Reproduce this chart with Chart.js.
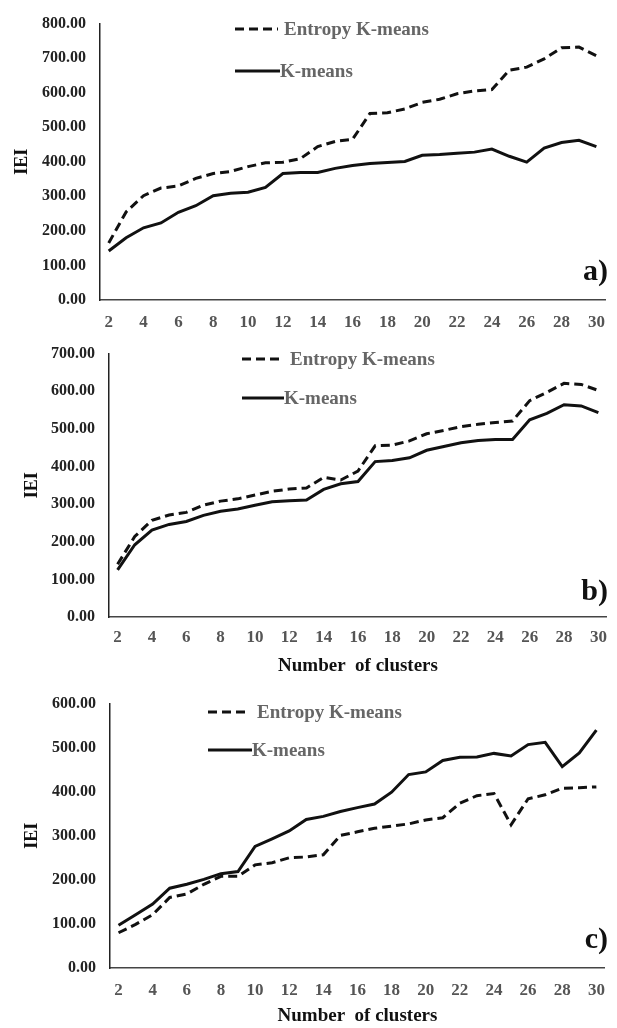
<!DOCTYPE html>
<html lang="en">
<head>
<meta charset="UTF-8">
<title>IEI vs number of clusters</title>
<script src="https://cdn.jsdelivr.net/npm/chart.js"></script>
<style>
  body { margin: 0; background: #fff; }
  .panel { position: absolute; left: 0; width: 617px; }
</style>
</head>
<body>
<div class="panel" style="top:0;height:335px"><canvas id="chartA"></canvas></div>
<div class="panel" style="top:330px;height:350px"><canvas id="chartB"></canvas></div>
<div class="panel" style="top:680px;height:348px"><canvas id="chartC"></canvas></div>
<script>
const clusters = ['2','3','4','5','6','7','8','9','10','11','12','13','14','15','16',
                  '17','18','19','20','21','22','23','24','25','26','27','28','29','30'];

// panel a)
const entropyA = [165,255,302,324,330,352,366,372,386,397,399,409,444,459,465,
                  540,542,553,572,581,597,605,609,665,674,698,730,732,707];
const kmeansA  = [142,180,209,223,254,273,302,309,312,326,366,369,369,381,389,
                  395,398,401,419,421,425,428,437,416,399,440,456,462,444];

// panel b)
const entropyB = [140,214,257,271,278,297,308,314,324,334,340,343,371,364,388,
                  455,457,468,487,496,506,512,517,521,575,597,621,618,602];
const kmeansB  = [125,192,231,246,254,270,281,287,297,306,309,311,339,354,360,
                  413,416,423,443,453,463,469,472,472,524,541,564,561,543];

// panel c)
const entropyC = [80,99,121,160,168,190,208,208,234,239,250,252,257,301,309,
                  317,322,327,336,341,374,391,396,325,384,393,408,409,411];
const kmeansC  = [97,121,145,181,190,201,214,219,276,293,311,337,344,355,364,
                  372,399,439,445,471,478,479,487,481,507,512,457,488,540];

const seriesNames = ['Entropy K-means', 'K-means'];
const serif = '"Liberation Serif", "Times New Roman", serif';

// legend + panel letter, drawn on the canvas
const annotate = {
  id: 'annotate',
  afterDraw(chart, args, o) {
    const ctx = chart.ctx;
    ctx.save();
    ctx.strokeStyle = '#111';
    ctx.lineWidth = 3;
    ctx.setLineDash([9, 5]);
    ctx.beginPath();
    ctx.moveTo(o.x, o.y1);
    ctx.lineTo(o.x + o.len, o.y1);
    ctx.stroke();
    ctx.setLineDash([]);
    ctx.beginPath();
    ctx.moveTo(o.x, o.y2);
    ctx.lineTo(o.x + o.len + 2, o.y2);
    ctx.stroke();

    ctx.font = 'bold 19px ' + serif;
    ctx.fillStyle = '#666';
    ctx.textBaseline = 'middle';
    ctx.fillText(seriesNames[0], o.x + o.len + o.gap1, o.y1 + 1);
    ctx.fillText(seriesNames[1], o.x + o.len + 2, o.y2 + 1);

    ctx.font = 'bold 30px ' + serif;
    ctx.fillStyle = '#111';
    ctx.textAlign = 'right';
    ctx.textBaseline = 'alphabetic';
    ctx.fillText(o.tag, 608, o.tagY);
    ctx.restore();
  }
};

function makeChart(id, entropy, kmeans, yMax, cfg) {
  new Chart(document.getElementById(id), {
    type: 'line',
    data: {
      labels: clusters,
      datasets: [
        { label: seriesNames[0], data: entropy, borderColor: '#111', borderWidth: 3,
          borderDash: [9, 5], pointRadius: 0, tension: 0 },
        { label: seriesNames[1], data: kmeans, borderColor: '#111', borderWidth: 3,
          pointRadius: 0, tension: 0 }
      ]
    },
    options: {
      responsive: true,
      maintainAspectRatio: false,
      animation: false,
      layout: { padding: { top: cfg.top, right: 7, left: 0, bottom: 0 } },
      plugins: {
        legend: { display: false },
        tooltip: { enabled: false },
        annotate: cfg.ann
      },
      scales: {
        x: {
          offset: true,
          grid: { display: false, drawTicks: false },
          border: { display: true, color: '#444', width: 1.5 },
          ticks: {
            autoSkip: false, maxRotation: 0, padding: cfg.xPad, color: '#555',
            font: { family: serif, size: 17, weight: 'bold' },
            callback: function (v, i) { return i % 2 === 0 ? this.getLabelForValue(v) : ''; }
          },
          title: {
            display: cfg.xTitle, text: 'Number  of clusters', color: '#111',
            font: { family: serif, size: 19, weight: 'bold' },
            padding: { top: 0, bottom: cfg.titlePad }
          },
          afterFit: s => { s.height = cfg.xh; }
        },
        y: {
          min: 0, max: yMax,
          grid: { display: false, drawTicks: false },
          border: { display: true, color: '#222', width: 1.5 },
          ticks: {
            stepSize: 100, padding: 14, color: '#222',
            font: { family: serif, size: 16, weight: 'bold' },
            callback: v => v.toFixed(2)
          },
          title: {
            display: true, text: 'IEI', color: '#111',
            font: { family: serif, size: 18, weight: 'bold' },
            padding: { top: cfg.yTitlePad, bottom: 0 }
          },
          afterFit: s => { s.width = cfg.left; }
        }
      }
    },
    plugins: [annotate]
  });
}

makeChart('chartA', entropyA, kmeansA, 800, {
  top: 13, left: 100, xh: 35, xPad: 12, xTitle: false, titlePad: 0, yTitlePad: 12,
  ann: { x: 235, len: 43, gap1: 6, y1: 29, y2: 71, tag: 'a)', tagY: 280 }
});
makeChart('chartB', entropyB, kmeansB, 700, {
  top: 15, left: 109, xh: 63, xPad: 10, xTitle: true, titlePad: 3, yTitlePad: 22,
  ann: { x: 242, len: 40, gap1: 8, y1: 29, y2: 68, tag: 'b)', tagY: 270 }
});
makeChart('chartC', entropyC, kmeansC, 600, {
  top: 17, left: 110, xh: 60, xPad: 12, xTitle: true, titlePad: 1, yTitlePad: 22,
  ann: { x: 208, len: 42, gap1: 7, y1: 32, y2: 70, tag: 'c)', tagY: 268 }
});
</script>
</body>
</html>
